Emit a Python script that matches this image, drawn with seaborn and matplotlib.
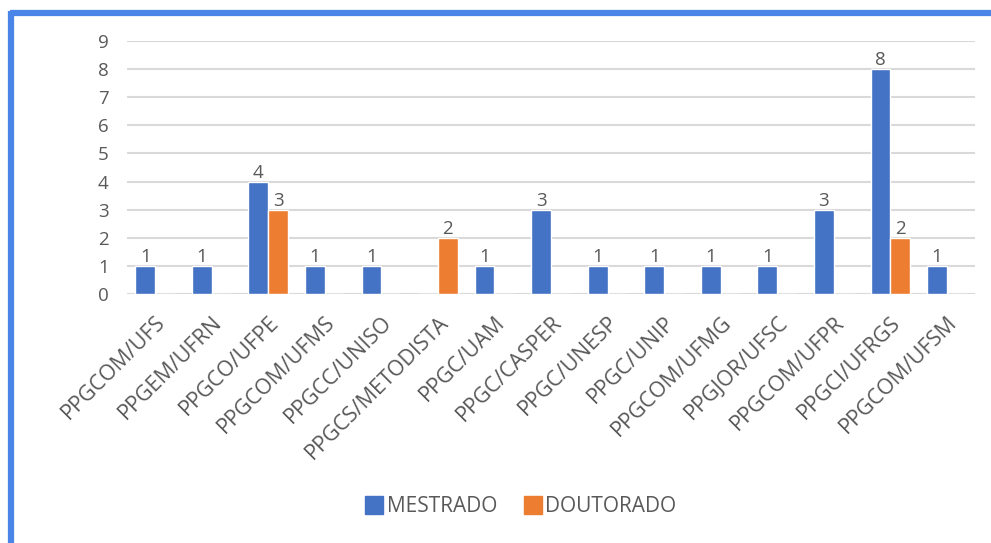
import matplotlib
matplotlib.use("Agg")
import matplotlib.pyplot as plt
import seaborn as sns
import pandas as pd
from matplotlib.lines import Line2D

programas = ["PPGCOM/UFS", "PPGEM/UFRN", "PPGCO/UFPE", "PPGCOM/UFMS", "PPGCC/UNISO",
             "PPGCS/METODISTA", "PPGC/UAM", "PPGC/CASPER", "PPGC/UNESP", "PPGC/UNIP",
             "PPGCOM/UFMG", "PPGJOR/UFSC", "PPGCOM/UFPR", "PPGCI/UFRGS", "PPGCOM/UFSM"]
mestrado = [1, 1, 4, 1, 1, 0, 1, 3, 1, 1, 1, 1, 3, 8, 1]
doutorado = [0, 0, 3, 0, 0, 2, 0, 0, 0, 0, 0, 0, 0, 2, 0]
series = ["MESTRADO", "DOUTORADO"]
colors = ["#4472C4", "#ED7D31"]
yticks = list(range(0, 10))

df = pd.DataFrame({
    "programa": programas * 2,
    "valor": mestrado + doutorado,
    "nivel": [series[0]] * len(programas) + [series[1]] * len(programas),
})

sns.set_theme(style="white")
plt.rcParams["font.family"] = ["Open Sans", "DejaVu Sans"]
txt = "#595959"

fig = plt.figure(figsize=(9.91, 5.43), dpi=100)
ax = fig.add_axes([0.128, 0.4586, 0.856, 0.4659])

sns.barplot(data=df, x="programa", y="valor", hue="nivel", hue_order=series,
            palette=colors, width=0.7, gap=0, saturation=1, ax=ax, legend=False)

for cont, vals in zip(ax.containers, [mestrado, doutorado]):
    labels = [str(v) if v > 0 else "" for v in vals]
    ax.bar_label(cont, labels=labels, padding=0, fontsize=13.5, color=txt)

ax.set_ylim(0, 9)
ax.set_yticks(yticks)
ax.set_xlim(-0.5, len(programas) - 0.5)
ax.yaxis.grid(True, color="#D9D9D9", linewidth=1.5)
ax.set_axisbelow(True)
for s in ax.spines.values():
    s.set_visible(False)
ax.set_xlabel("")
ax.set_ylabel("")
ax.tick_params(axis="y", length=0, pad=13, labelsize=13.5, labelcolor=txt)
ax.tick_params(axis="x", length=0, pad=13, labelsize=15.5, labelcolor=txt)
plt.setp(ax.get_xticklabels(), rotation=45, ha="right", rotation_mode="anchor")

handles = [Line2D([0], [0], marker="s", linestyle="", markersize=13,
                  markerfacecolor=c, markeredgecolor=c) for c in colors]
fig.legend(handles, series, loc="center", bbox_to_anchor=(0.526, 0.067), ncol=2,
           frameon=False, fontsize=15, labelcolor=txt, handletextpad=0.2,
           columnspacing=1.3, handlelength=0.8)

# blue screenshot frame
frame = "#4A86E8"
fig.add_artist(Line2D([0.010, 1.0], [1 - 13 / 543, 1 - 13 / 543], color=frame,
                      linewidth=4.5, transform=fig.transFigure, solid_capstyle="butt"))
fig.add_artist(Line2D([11 / 991, 11 / 991], [0, 1 - 11 / 543], color=frame,
                      linewidth=4.5, transform=fig.transFigure, solid_capstyle="butt"))

fig.savefig("out.png", dpi=100, facecolor="white")
